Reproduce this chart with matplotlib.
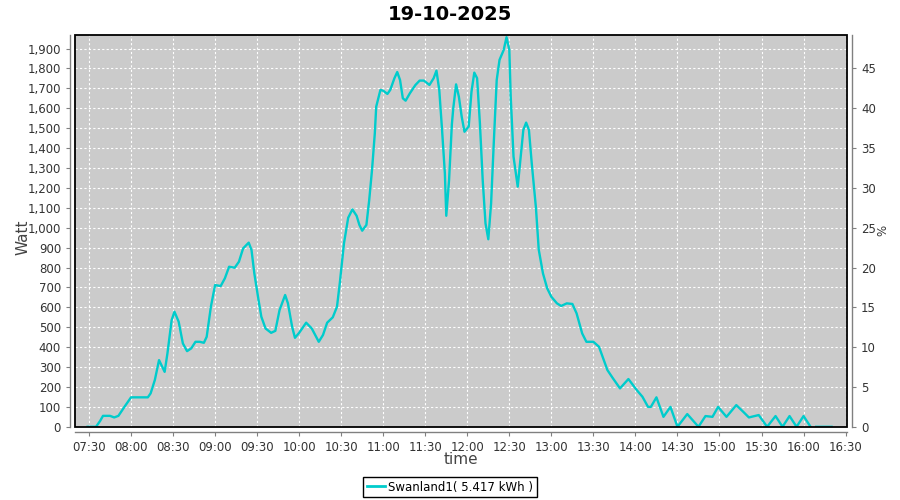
import matplotlib
matplotlib.use("Agg")
import matplotlib.pyplot as plt
import matplotlib.dates as mdates
from matplotlib.patches import Rectangle
from matplotlib.lines import Line2D
from matplotlib.ticker import FuncFormatter, MultipleLocator
import numpy as np
import pandas as pd

# data
day = "2025-10-19"
times = ["07:29", "07:35", "07:38", "07:40", "07:45", "07:48", "07:51", "07:55",
         "08:00", "08:03", "08:12", "08:14", "08:17", "08:20", "08:24", "08:26",
         "08:29", "08:31", "08:34", "08:37", "08:40", "08:43", "08:46", "08:49",
         "08:52", "08:54", "08:57", "09:00", "09:04", "09:07", "09:10", "09:14",
         "09:17", "09:20", "09:24", "09:26", "09:28", "09:31", "09:33", "09:36",
         "09:40", "09:43", "09:46", "09:50", "09:52", "09:55", "09:57", "10:00",
         "10:05", "10:09", "10:14", "10:17", "10:20", "10:24", "10:27", "10:29",
         "10:32", "10:35", "10:38", "10:41", "10:43", "10:45", "10:48", "10:50",
         "10:52", "10:54", "10:55", "10:58", "11:00", "11:03", "11:05", "11:08",
         "11:10", "11:12", "11:14", "11:16", "11:19", "11:23", "11:26", "11:29",
         "11:33", "11:36", "11:38", "11:40", "11:42", "11:44", "11:45", "11:47",
         "11:49", "11:50", "11:52", "11:54", "11:56", "11:58", "12:01", "12:03",
         "12:05", "12:07", "12:09", "12:11", "12:13", "12:15", "12:17", "12:19",
         "12:21", "12:23", "12:26", "12:28", "12:30", "12:31", "12:33", "12:36",
         "12:38", "12:40", "12:42", "12:44", "12:46", "12:49", "12:51", "12:54",
         "12:57", "13:00", "13:04", "13:07", "13:11", "13:15", "13:18", "13:22",
         "13:25", "13:30", "13:34", "13:40", "13:44", "13:49", "13:55", "14:01",
         "14:05", "14:09", "14:11", "14:15", "14:20", "14:25", "14:30", "14:37",
         "14:45", "14:50", "14:55", "14:59", "15:05", "15:12", "15:17", "15:21",
         "15:28", "15:34", "15:40", "15:45", "15:50", "15:55", "16:00", "16:05",
         "16:07", "16:09", "16:20"]
watt = [0, 0, 30, 55, 55, 47, 55, 97,
        148, 148, 148, 168, 235, 335, 276, 369,
        536, 578, 528, 419, 380, 394, 427, 427,
        422, 452, 603, 712, 707, 746, 804, 799,
        829, 896, 925, 888, 771, 637, 553, 494,
        472, 482, 586, 662, 620, 502, 447, 472,
        523, 494, 427, 461, 523, 550, 603, 721,
        922, 1050, 1092, 1060, 1014, 985, 1014, 1139,
        1290, 1474, 1608, 1692, 1688, 1672, 1692, 1751,
        1782, 1742, 1650, 1638, 1675, 1717, 1739, 1739,
        1717, 1751, 1789, 1692, 1491, 1273, 1060, 1240,
        1520, 1600, 1720, 1658, 1558, 1482, 1508, 1683,
        1779, 1751, 1525, 1240, 1022, 942, 1123, 1441,
        1742, 1843, 1893, 1957, 1893, 1658, 1357, 1206,
        1349, 1491, 1528, 1491, 1324, 1100, 890, 771,
        696, 653, 620, 607, 620, 617, 570, 469,
        427, 427, 402, 285, 243, 193, 240, 184,
        151, 100, 100, 148, 50, 100, 0, 64,
        0, 54, 50, 100, 50, 109, 75, 47,
        59, 0, 54, 0, 54, 0, 54, 0,
        np.nan, 0, 0]

series_name = "Swanland1( 5.417 kWh )"
title = "19-10-2025"

t = pd.to_datetime([day + " " + s for s in times])
w = np.array(watt, dtype=float)

fig = plt.figure(figsize=(9, 5), dpi=100)
ax = fig.add_axes([0.0833, 0.146, 0.8578, 0.784])
ax.set_facecolor("#cbcbcb")

line_color = "#00cccc"
ax.plot(t, w, color=line_color, linewidth=1.7, zorder=3)

ax.set_xlim(pd.Timestamp(day + " 07:20"), pd.Timestamp(day + " 16:31"))
ax.set_ylim(-1, 1968)

ax.xaxis.set_major_locator(mdates.MinuteLocator(byminute=[0, 30]))
ax.xaxis.set_major_formatter(mdates.DateFormatter("%H:%M"))
ax.yaxis.set_major_locator(MultipleLocator(100))
ax.yaxis.set_major_formatter(FuncFormatter(lambda v, p: f"{v:,.0f}"))

ax.grid(True, color="white", linestyle=(0, (2, 2)), linewidth=0.8)
ax.set_axisbelow(True)

# right axis in percent (W / 40)
ax2 = ax.twinx()
lo, hi = ax.get_ylim()
ax2.set_ylim(lo / 40, hi / 40)
ax2.yaxis.set_major_locator(MultipleLocator(5))

gray = "#808080"
for a in (ax, ax2):
    for s in a.spines.values():
        s.set_visible(False)
ax.spines["left"].set_visible(True)
ax.spines["bottom"].set_visible(True)
ax2.spines["right"].set_visible(True)
for s in (ax.spines["left"], ax.spines["bottom"], ax2.spines["right"]):
    s.set_position(("outward", 3.5))
    s.set_color(gray)
    s.set_linewidth(1.0)

ax.tick_params(direction="out", length=3, color=gray, labelcolor="#333333", labelsize=8.5)
ax2.tick_params(direction="out", length=3, color=gray, labelcolor="#333333", labelsize=8.5)

# black plot border
ax2.add_patch(Rectangle((0, 0), 1, 1, transform=ax2.transAxes, fill=False,
                        edgecolor="black", linewidth=1.3, clip_on=False, zorder=10))

fig.text(0.5, 0.97, title, ha="center", va="center", fontsize=14, fontweight="bold")
fig.text(0.025, 0.526, "Watt", rotation=90, ha="center", va="center",
         fontsize=11, color="#444444")
fig.text(0.981, 0.54, "%", rotation=90, ha="center", va="center",
         fontsize=8.5, color="#333333")
fig.text(0.512, 0.08, "time", ha="center", va="center", fontsize=11, color="#444444")

handle = Line2D([], [], color=line_color, linewidth=2)
leg = fig.legend([handle], [series_name], loc="center", bbox_to_anchor=(0.5, 0.026),
                 fancybox=False, edgecolor="black", fontsize=8.5, handlelength=1.5,
                 handletextpad=0.3, borderpad=0.3, framealpha=1)
leg.get_frame().set_linewidth(1.0)

fig.savefig("out.png", dpi=100)
